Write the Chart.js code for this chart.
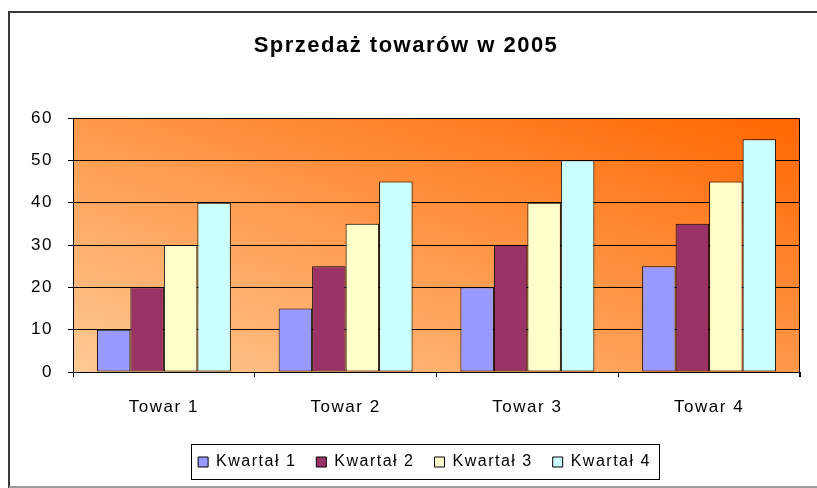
<!DOCTYPE html>
<html><head><meta charset="utf-8">
<script src="https://cdn.jsdelivr.net/npm/chart.js@4"></script>
<style>html,body{margin:0;padding:0;background:#fff}canvas{display:block}</style>
</head><body>
<canvas id="c" width="817" height="488"></canvas>
<script>
const categories = ['Towar 1', 'Towar 2', 'Towar 3', 'Towar 4'];
const seriesNames = ['Kwartał 1', 'Kwartał 2', 'Kwartał 3', 'Kwartał 4'];
const kwartal1 = [10, 15, 20, 25];
const kwartal2 = [20, 25, 30, 35];
const kwartal3 = [30, 35, 40, 45];
const kwartal4 = [40, 45, 50, 55];
const yTicks = [0, 10, 20, 30, 40, 50, 60];
const titleText = 'Sprzedaż towarów w 2005';

const seriesColors = ['#9999FF', '#993366', '#FFFFCC', '#CCFFFF'];
const FONT = "'Liberation Sans', Arial, sans-serif";
const LS = '1.5px';
const LEGEND_SHIFT = -12;

const spacingPlugin = {
  id: 'spacing',
  beforeLayout(chart) { chart.ctx.letterSpacing = LS; },
  afterLayout(chart) {
    const lg = chart.legend;
    if (lg) { lg.left += LEGEND_SHIFT; lg.right += LEGEND_SHIFT; }
  },
  beforeDraw(chart) { chart.ctx.letterSpacing = LS; }
};

const bgPlugin = {
  id: 'bg',
  beforeDraw(chart) {
    const {ctx, chartArea: a} = chart;
    const W = a.right - a.left, H = a.bottom - a.top, L2 = W * W + H * H;
    const cx = (a.left + a.right) / 2, cy = (a.top + a.bottom) / 2;
    const k = W * H / L2;
    const g = ctx.createLinearGradient(cx - k * H, cy + k * W, cx + k * H, cy - k * W);
    g.addColorStop(0, '#FFCA95');
    g.addColorStop(1, '#FF6600');
    ctx.save();
    ctx.fillStyle = g;
    ctx.fillRect(a.left, a.top, W, H);
    ctx.restore();
  }
};

const framePlugin = {
  id: 'frame',
  afterDraw(chart) {
    const {ctx, chartArea: a} = chart;
    ctx.save();
    // outer frame
    ctx.strokeStyle = '#3a3a3a';
    ctx.lineWidth = 2;
    ctx.beginPath();
    ctx.moveTo(9, 488);
    ctx.lineTo(9, 12);
    ctx.lineTo(817, 12);
    ctx.stroke();
    ctx.strokeStyle = '#9a9a9a';
    ctx.lineWidth = 2;
    ctx.beginPath();
    ctx.moveTo(9, 487);
    ctx.lineTo(817, 487);
    ctx.stroke();
    // plot right border
    ctx.strokeStyle = '#000';
    ctx.lineWidth = 1;
    ctx.beginPath();
    ctx.moveTo(Math.round(a.right) - 0.5, a.top);
    ctx.lineTo(Math.round(a.right) - 0.5, a.bottom + 5);
    ctx.stroke();
    // legend box
    const hb = chart.legend.legendHitBoxes;
    if (hb && hb.length) {
      const first = hb[0], last = hb[hb.length - 1];
      const cy = first.top + first.height / 2;
      const l = Math.round(first.left - 7) + 0.5;
      const r = Math.round(last.left + last.width + 8) + 0.5;
      const t = Math.round(cy - 18) + 0.5;
      const b = Math.round(cy + 17) + 0.5;
      ctx.strokeStyle = '#000';
      ctx.lineWidth = 1;
      ctx.strokeRect(l, t, r - l, b - t);
    }
    ctx.restore();
  }
};

const datasets = [kwartal1, kwartal2, kwartal3, kwartal4].map((d, i) => ({
  label: seriesNames[i],
  data: d,
  backgroundColor: seriesColors[i],
  borderColor: '#000',
  borderWidth: 1,
  borderSkipped: false,
  categoryPercentage: 0.737,
  barPercentage: 1.0
}));

new Chart(document.getElementById('c'), {
  type: 'bar',
  data: { labels: categories, datasets },
  options: {
    responsive: false,
    animation: false,
    devicePixelRatio: 1,
    layout: { padding: { left: 12, right: 17, top: 0, bottom: 8 } },
    plugins: {
      title: {
        display: true,
        text: titleText,
        color: '#000',
        font: { family: FONT, size: 22, weight: 'bold', lineHeight: 1.2 },
        padding: { top: 33, bottom: 58.6 }
      },
      legend: {
        display: true,
        position: 'bottom',
        fullSize: false,
        labels: {
          color: '#000',
          font: { family: FONT, size: 16 },
          boxWidth: 10,
          boxHeight: 10,
          padding: 20
        }
      },
      tooltip: { enabled: false }
    },
    scales: {
      x: {
        offset: true,
        grid: { display: true, drawOnChartArea: false, drawTicks: true, tickLength: 5, color: '#000', offset: true },
        border: { display: true, color: '#000', width: 1 },
        ticks: { color: '#000', font: { family: FONT, size: 17 }, padding: 20, maxRotation: 0 },
        afterFit(s) { s.height = 62; }
      },
      y: {
        min: 0, max: 60,
        afterBuildTicks(s) { s.ticks = yTicks.map(v => ({ value: v })); },
        grid: { color: '#000', lineWidth: 1, tickLength: 5, drawTicks: true },
        border: { display: true, color: '#000', width: 1 },
        ticks: { color: '#000', font: { family: FONT, size: 17 }, padding: 15 },
        afterFit(s) { s.width = 61; }
      }
    }
  },
  plugins: [spacingPlugin, bgPlugin, framePlugin]
});
</script>
</body></html>
